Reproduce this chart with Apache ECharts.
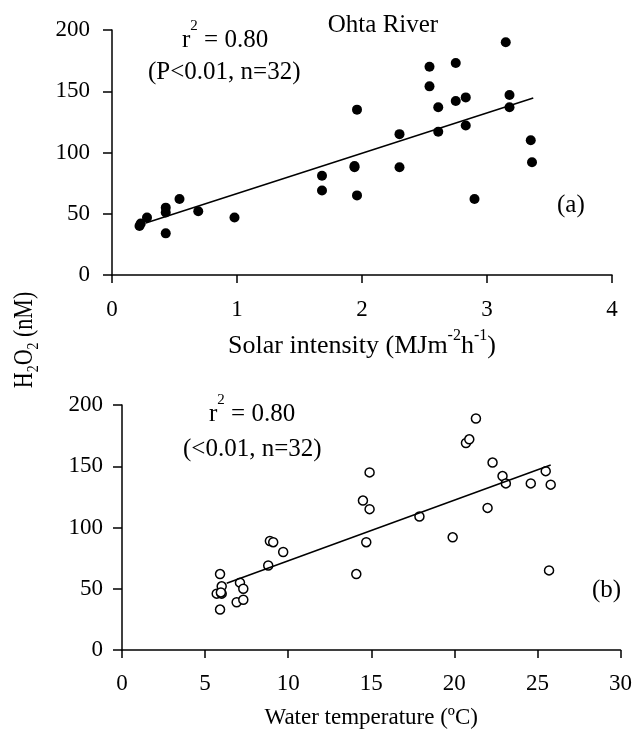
<!DOCTYPE html>
<html>
<head>
<meta charset="utf-8">
<script src="https://cdn.jsdelivr.net/npm/echarts@6/dist/echarts.min.js"></script>
<style>html,body{margin:0;padding:0;background:#fff;}#c{width:635px;height:731px;}</style>
</head>
<body>
<div id="c"></div>
<script>
// Panel (a): solar intensity vs H2O2
const solarX = [0.22, 0.23, 0.28, 0.43, 0.43, 0.43, 0.54, 0.69, 0.98, 1.68, 1.68, 1.94, 1.94, 1.96, 1.96, 2.30, 2.30, 2.54, 2.54, 2.61, 2.61, 2.75, 2.75, 2.83, 2.83, 2.90, 3.15, 3.18, 3.18, 3.35, 3.36];
const solarY = [40, 42, 47, 55, 51, 34, 62, 52, 47, 81, 69, 89, 88, 135, 65, 115, 88, 170, 154, 137, 117, 173, 142, 145, 122, 62, 190, 147, 137, 110, 92];
const fitAX = [0.27, 3.37];
const fitAY = [42.5, 144.5];

// Panel (b): water temperature vs H2O2
const tempX = [5.9, 6.0, 5.7, 6.0, 5.9, 5.95, 7.1, 7.3, 6.9, 7.3, 8.8, 8.9, 9.1, 9.7, 14.1, 14.5, 14.9, 14.9, 14.7, 17.9, 19.9, 20.7, 20.9, 21.3, 22.0, 22.3, 22.9, 23.1, 24.6, 25.5, 25.8, 25.7];
const tempY = [62, 52, 46, 46, 33, 47, 55, 50, 39, 41, 69, 89, 88, 80, 62, 122, 145, 115, 88, 109, 92, 169, 172, 189, 116, 153, 142, 136, 136, 146, 135, 65];
const fitBX = [6.3, 25.8];
const fitBY = [54.5, 151];

const xTicksA = [0, 1, 2, 3, 4];
const xTicksB = [0, 5, 10, 15, 20, 25, 30];
const yTicks = [0, 50, 100, 150, 200];

const FONT = "'Liberation Serif', 'Times New Roman', serif";
const BLACK = '#000';

function pairs(xs, ys) { return xs.map((x, i) => [x, ys[i]]); }

function xAxisCfg(grid, ticks, name, nameSize, gap, rich, labelMargin) {
  return {
    type: 'value', gridIndex: grid,
    min: ticks[0], max: ticks[ticks.length - 1], interval: ticks[1] - ticks[0],
    name: name, nameLocation: 'middle', nameGap: gap,
    nameTextStyle: { fontFamily: FONT, fontSize: nameSize, color: BLACK, rich: rich },
    axisLine: { lineStyle: { color: BLACK, width: 1.5 } },
    axisTick: { length: 8, lineStyle: { color: BLACK, width: 1.5 } },
    axisLabel: { fontFamily: FONT, fontSize: 23, color: BLACK, margin: labelMargin },
    splitLine: { show: false }
  };
}
function yAxisCfg(grid, margin) {
  return {
    type: 'value', gridIndex: grid,
    min: yTicks[0], max: yTicks[yTicks.length - 1], interval: yTicks[1] - yTicks[0],
    axisLine: { show: true, lineStyle: { color: BLACK, width: 1.5 } },
    axisTick: { show: true, length: 9, lineStyle: { color: BLACK, width: 1.5 } },
    axisLabel: { fontFamily: FONT, fontSize: 23, color: BLACK, margin: margin },
    splitLine: { show: false }
  };
}

const supRich = {
  n: { fontFamily: FONT, fontSize: 26, color: BLACK, lineHeight: 31, verticalAlign: 'bottom' },
  sup: { fontFamily: FONT, fontSize: 16, color: BLACK, lineHeight: 31, verticalAlign: 'top' }
};
const r2Rich = {
  n: { fontFamily: FONT, fontSize: 25, fill: BLACK, lineHeight: 34, verticalAlign: 'bottom' },
  sup: { fontFamily: FONT, fontSize: 15, fill: BLACK, lineHeight: 34, verticalAlign: 'top' }
};
function label(text, x, y, size, align) {
  return { type: 'text', x: x, y: y, style: { text: text, font: size + 'px ' + FONT, fill: BLACK,
    align: align || 'left', verticalAlign: 'middle' } };
}

const chart = echarts.init(document.getElementById('c'), null, { renderer: 'canvas' });
chart.setOption({
  backgroundColor: '#fff',
  animation: false,
  grid: [
    { left: 112, top: 30, width: 500, height: 245 },
    { left: 122, top: 405, width: 500, height: 245 }
  ],
  xAxis: [
    xAxisCfg(0, xTicksA, '{n|Solar intensity (MJm}{sup|-2}{n|h}{sup|-1}{n|)}', 26, 53, supRich, 23),
    xAxisCfg(1, xTicksB, 'Water temperature (ºC)', 23, 56, null, 22)
  ],
  yAxis: [yAxisCfg(0, 22), yAxisCfg(1, 19)],
  series: [
    { type: 'scatter', xAxisIndex: 0, yAxisIndex: 0, data: pairs(solarX, solarY), symbol: 'circle', symbolSize: 10,
      itemStyle: { color: BLACK, opacity: 1 } },
    { type: 'line', xAxisIndex: 0, yAxisIndex: 0, data: pairs(fitAX, fitAY), symbol: 'none',
      lineStyle: { color: BLACK, width: 1.5 } },
    { type: 'scatter', xAxisIndex: 1, yAxisIndex: 1, data: pairs(tempX, tempY), symbol: 'circle', symbolSize: 9,
      itemStyle: { color: '#fff', borderColor: BLACK, borderWidth: 1.5, opacity: 1 } },
    { type: 'line', xAxisIndex: 1, yAxisIndex: 1, data: pairs(fitBX, fitBY), symbol: 'none',
      lineStyle: { color: BLACK, width: 1.5 } }
  ],
  graphic: [
    label('Ohta River', 383, 25, 25, 'center'),
    { type: 'text', x: 182, y: 36, style: { text: '{n|r}{sup|2}{n| = 0.80}', verticalAlign: 'middle', rich: r2Rich } },
    label('(P<0.01, n=32)', 148, 72, 25),
    label('(a)', 557, 205, 25),
    { type: 'text', x: 209, y: 410, style: { text: '{n|r}{sup|2}{n| = 0.80}', verticalAlign: 'middle', rich: r2Rich } },
    label('(<0.01, n=32)', 183, 449, 25),
    label('(b)', 592, 590, 25),
    { type: 'text', x: 25, y: 340, rotation: Math.PI / 2, scaleY: 1.2, style: {
        text: '{n|H}{s|2}{n|O}{s|2}{n| (nM)}', align: 'center', verticalAlign: 'middle',
        rich: {
          n: { fontFamily: FONT, fontSize: 22, fill: BLACK, lineHeight: 28, verticalAlign: 'middle' },
          s: { fontFamily: FONT, fontSize: 14, fill: BLACK, lineHeight: 28, verticalAlign: 'bottom' }
        } } }
  ]
});
</script>
</body>
</html>
